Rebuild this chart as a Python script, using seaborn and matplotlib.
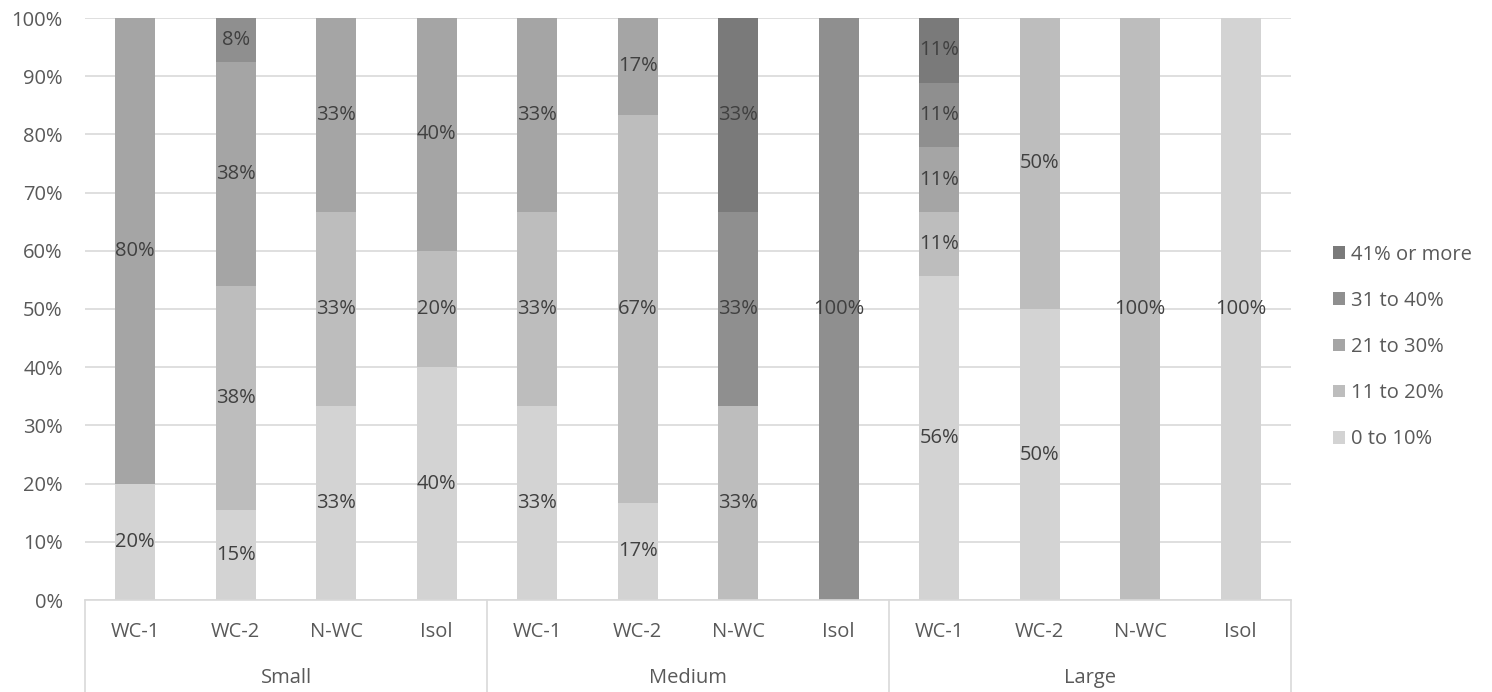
import matplotlib
matplotlib.use("Agg")
import matplotlib.pyplot as plt
import matplotlib.transforms as mtransforms
from matplotlib.patches import Patch
import numpy as np
import pandas as pd
import seaborn as sns

# Data (shares in % per bar)
groups = ["Small", "Medium", "Large"]
types = ["WC-1", "WC-2", "N-WC", "Isol"]
bands = ["0 to 10%", "11 to 20%", "21 to 30%", "31 to 40%", "41% or more"]
colors = ["#d3d3d3", "#bdbdbd", "#a5a5a5", "#8f8f8f", "#7a7a7a"]

# order of bars: Small WC-1..Isol, Medium WC-1..Isol, Large WC-1..Isol
band_0_10 = [20, 15.4, 33.3, 40, 33.3, 16.7, 0, 0, 55.6, 50, 0, 100]
band_11_20 = [0, 38.5, 33.3, 20, 33.3, 66.7, 33.3, 0, 11.1, 50, 100, 0]
band_21_30 = [80, 38.5, 33.4, 40, 33.4, 16.6, 0, 0, 11.1, 0, 0, 0]
band_31_40 = [0, 7.6, 0, 0, 0, 0, 33.3, 100, 11.1, 0, 0, 0]
band_41_up = [0, 0, 0, 0, 0, 0, 33.4, 0, 11.1, 0, 0, 0]

series = [band_0_10, band_11_20, band_21_30, band_31_40, band_41_up]
bar_ids = [f"{g}|{t}" for g in groups for t in types]

rows = []
for band, vals in zip(bands, series):
    for bid, v in zip(bar_ids, vals):
        rows.append({"bar": bid, "band": band, "value": v})
df = pd.DataFrame(rows)

sns.set_theme(style="white")
plt.rcParams["font.family"] = ["Open Sans", "DejaVu Sans"]
FS = 14.5

fig = plt.figure(figsize=(14.92, 6.92), dpi=100)
ax = fig.add_axes([85 / 1492, 92 / 692, (1291 - 85) / 1492, (599 - 17) / 692])

bottom = np.zeros(len(bar_ids))
for band, col in zip(bands, colors):
    sub = df[df["band"] == band].set_index("bar").loc[bar_ids].reset_index()
    sns.barplot(data=sub, x="bar", y="value", order=bar_ids, color=col,
                width=0.4, bottom=bottom, ax=ax, linewidth=0, saturation=1)
    for i, v in enumerate(sub["value"]):
        if v > 0:
            ax.text(i, bottom[i] + v / 2, f"{round(v)}%", ha="center", va="center",
                    fontsize=FS, color="#404040")
    bottom = bottom + sub["value"].to_numpy()

ax.set_ylim(0, 100)
ax.set_xlim(-0.5, len(bar_ids) - 0.5)
ax.set_yticks(range(0, 101, 10))
ax.set_yticklabels([f"{v}%" for v in range(0, 101, 10)], fontsize=FS, color="#595959")
ax.yaxis.grid(True, color="#d9d9d9", linewidth=1.2)
ax.set_axisbelow(True)
ax.tick_params(axis="y", length=0, pad=16)
ax.set_xticks([])
ax.set_xlabel("")
ax.set_ylabel("")
for s in ["top", "right", "left"]:
    ax.spines[s].set_visible(False)
ax.spines["bottom"].set_color("#d9d9d9")
ax.spines["bottom"].set_linewidth(1.2)

# two-level category axis
trans = mtransforms.blended_transform_factory(ax.transData, ax.transAxes)
ax_h = 582
for i, bid in enumerate(bar_ids):
    ax.text(i, -(631 - 599) / ax_h, bid.split("|")[1], transform=trans,
            ha="center", va="center", fontsize=FS, color="#595959")
for gi, g in enumerate(groups):
    ax.text(gi * 4 + 1.5, -(677 - 599) / ax_h, g, transform=trans,
            ha="center", va="center", fontsize=FS, color="#595959")
for xs in [-0.5, 3.5, 7.5, 11.5]:
    ax.plot([xs, xs], [0, -(692 - 599) / ax_h], transform=trans, color="#d9d9d9",
            linewidth=1.2, clip_on=False)

handles = [Patch(facecolor=c, edgecolor="none", label=b) for b, c in zip(bands, colors)][::-1]
fig.legend(handles=handles, loc="center left", bbox_to_anchor=(1333 / 1492, 1 - 347 / 692),
           frameon=False, fontsize=FS, labelcolor="#595959", handlelength=0.6,
           handleheight=0.6, handletextpad=0.3, labelspacing=1.3, borderpad=0,
           borderaxespad=0)

fig.savefig("out.png", dpi=100)
